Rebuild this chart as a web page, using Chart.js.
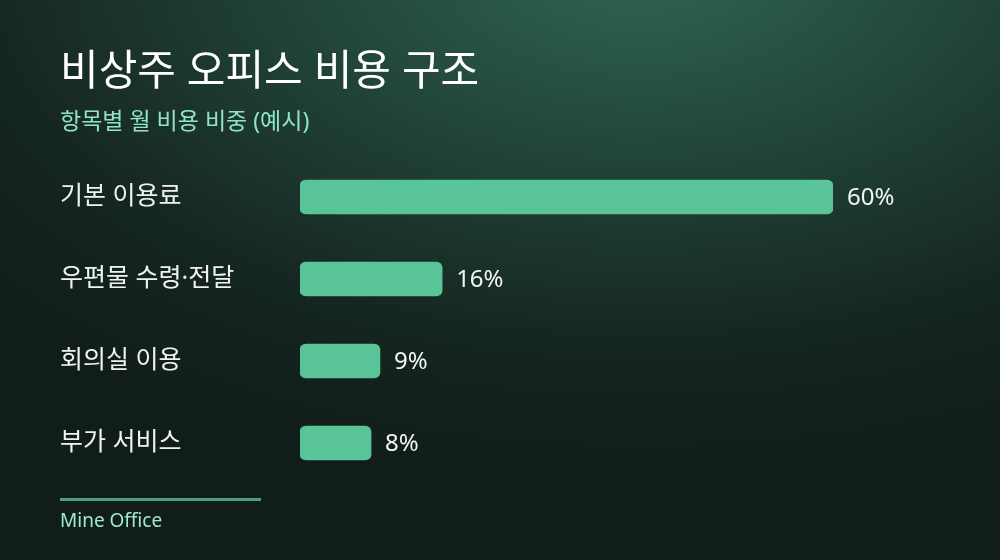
<!DOCTYPE html>
<html>
<head>
<meta charset="utf-8">
<script src="https://cdn.jsdelivr.net/npm/chart.js@4.4.1/dist/chart.umd.min.js"></script>
<style>
  html, body { margin: 0; padding: 0; }
  body {
    width: 1000px; height: 560px; overflow: hidden;
    background: radial-gradient(ellipse 900px 520px at 640px -40px, #2f6651 0%, #1f3f33 45%, #15251f 75%, #111d19 100%);
  }
  #wrap { position: relative; width: 1000px; height: 560px; }
</style>
</head>
<body>
<div id="wrap"><canvas id="chart" width="1000" height="560"></canvas></div>
<script>
const categories = ['기본 이용료', '우편물 수령·전달', '회의실 이용', '부가 서비스'];
const shares = [60, 16, 9, 8];
const titleText = '비상주 오피스 비용 구조';
const subtitleText = '항목별 월 비용 비중 (예시)';
const footerText = 'Mine Office';

const FONT = "'Noto Sans', 'Noto Sans CJK KR', sans-serif";

// value labels next to each bar + footer line/text
const extras = {
  id: 'extras',
  afterDatasetsDraw(chart) {
    const ctx = chart.ctx;
    const meta = chart.getDatasetMeta(0);
    ctx.save();
    ctx.fillStyle = '#f2f6f4';
    ctx.font = '24px ' + FONT;
    ctx.textBaseline = 'middle';
    ctx.textAlign = 'left';
    meta.data.forEach((bar, i) => {
      ctx.fillText(shares[i] + '%', bar.x + 14, bar.y + 1);
    });
    // footer
    ctx.fillStyle = '#4a9c7e';
    ctx.fillRect(60, 498, 201, 3);
    ctx.fillStyle = '#9ee8d4';
    ctx.font = '19px ' + FONT;
    ctx.fillText(footerText, 60, 522);
    ctx.restore();
  }
};

new Chart(document.getElementById('chart'), {
  type: 'bar',
  data: {
    labels: categories,
    datasets: [{
      data: shares,
      backgroundColor: '#5ac499',
      borderRadius: 6,
      borderSkipped: false,
      barThickness: 34
    }]
  },
  options: {
    indexAxis: 'y',
    responsive: false,
    animation: false,
    layout: { padding: { left: 60, right: 167, top: 0, bottom: 76 } },
    scales: {
      x: { min: 0, max: 60, display: false },
      y: {
        grid: { display: false },
        border: { display: false },
        ticks: {
          crossAlign: 'far',
          color: '#eef3f0',
          font: { size: 25, family: FONT },
          padding: 0
        },
        afterFit(scale) { scale.width = 240; }
      }
    },
    plugins: {
      legend: { display: false },
      tooltip: { enabled: false },
      title: {
        display: true,
        text: titleText,
        align: 'start',
        color: '#ffffff',
        font: { size: 42, family: FONT, weight: 'normal', lineHeight: 1.2 },
        padding: { top: 48, bottom: 0 }
      },
      subtitle: {
        display: true,
        text: subtitleText,
        align: 'start',
        color: '#8fe3cc',
        font: { size: 23, family: FONT, weight: 'normal', lineHeight: 1.2 },
        padding: { top: 10, bottom: 20 }
      }
    }
  },
  plugins: [extras]
});
</script>
</body>
</html>
